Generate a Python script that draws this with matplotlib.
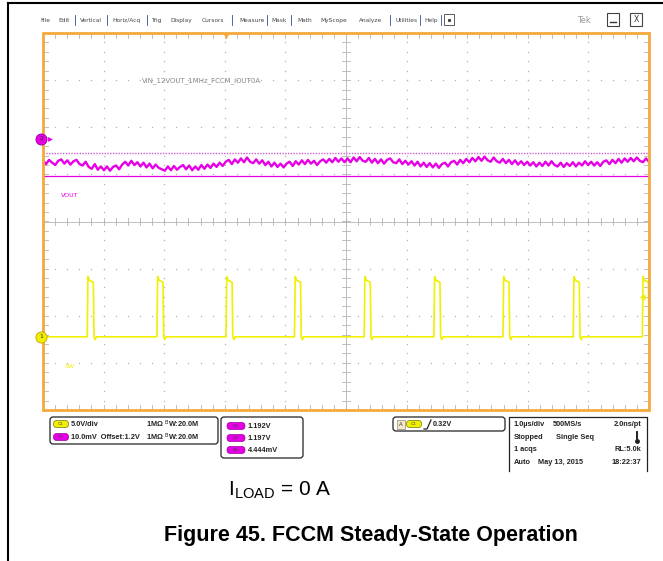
import numpy as np
import matplotlib
matplotlib.use("Agg")
import matplotlib.pyplot as plt
from matplotlib.patches import Rectangle, FancyBboxPatch

# scope settings
time_per_div = 1.0          # us/div
sw_volts_per_div = 5.0      # V/div, channel 1
vout_mv_per_div = 10.0      # mV/div, channel 2
vout_offset_mv = 1200.0

# switch node: rising edge times (us from screen centre), pulse levels (V)
sw_edges_us = [-4.27, -3.12, -1.98, -0.85, 0.30, 1.45, 2.59, 3.75, 4.89]
sw_width_us = 0.10
sw_high_v = 6.0
sw_peak_v = 6.4
sw_undershoot_v = -0.3

# output ripple, mV, one sample every 0.05 us
vout_mv = [
    1195.4, 1194.6, 1195.5, 1194.9, 1194.4, 1195.3, 1195.6, 1194.7, 1195.4, 1194.5,
    1195.2, 1195.5, 1194.6, 1194.3, 1195.1, 1194.0, 1193.6, 1194.6, 1193.4, 1194.1,
    1193.3, 1194.1, 1193.2, 1194.0, 1194.3, 1193.5, 1194.5, 1195.1, 1194.3, 1195.3,
    1194.4, 1195.0, 1194.1, 1194.9, 1193.9, 1194.7, 1193.7, 1194.5, 1193.8, 1193.5,
    1193.2, 1194.1, 1193.3, 1194.2, 1193.4, 1194.0, 1194.4, 1193.5, 1194.3, 1193.3,
    1194.1, 1193.4, 1194.4, 1193.6, 1194.5, 1193.8, 1194.7, 1194.0, 1194.9, 1194.2,
    1195.1, 1195.5, 1194.6, 1195.6, 1194.9, 1195.8, 1195.0, 1196.0, 1195.1, 1194.8,
    1195.6, 1194.7, 1195.4, 1194.4, 1195.1, 1194.1, 1194.9, 1194.0, 1194.7, 1193.9,
    1194.7, 1195.1, 1194.2, 1195.2, 1194.5, 1195.4, 1194.6, 1195.5, 1194.7, 1195.3,
    1194.4, 1195.2, 1195.6, 1194.9, 1195.7, 1195.0, 1195.9, 1195.1, 1195.8, 1195.0,
    1195.8, 1195.0, 1196.0, 1195.2, 1196.1, 1195.3, 1195.1, 1195.9, 1194.9, 1195.7,
    1194.8, 1195.6, 1194.7, 1195.5, 1195.8, 1195.0, 1194.8, 1195.6, 1194.6, 1195.3,
    1194.5, 1195.2, 1194.3, 1195.1, 1194.1, 1194.9, 1194.0, 1194.8, 1193.9, 1194.7,
    1193.8, 1194.6, 1194.9, 1194.1, 1195.0, 1195.3, 1194.5, 1195.5, 1194.8, 1195.7,
    1195.0, 1195.9, 1195.2, 1196.1, 1195.3, 1196.2, 1195.4, 1195.1, 1196.0, 1195.2,
    1194.9, 1195.7, 1194.8, 1195.5, 1194.6, 1195.4, 1194.5, 1195.2, 1194.4, 1195.1,
    1194.3, 1195.0, 1194.1, 1194.9, 1194.2, 1195.1, 1194.3, 1195.2, 1194.4, 1194.1,
    1194.9, 1194.0, 1194.8, 1194.2, 1195.0, 1194.1, 1194.9, 1194.3, 1195.2, 1194.4,
    1195.1, 1194.3, 1195.0, 1194.2, 1195.1, 1195.4, 1194.6, 1195.5, 1194.8, 1195.7,
    1194.9, 1195.8, 1195.1, 1195.9, 1195.2, 1196.0, 1195.3, 1195.0, 1195.8, 1195.1,
]

# cursor readouts
cursor_v1 = 1.192
cursor_v2 = 1.197
cursor_dv = "4.444mV"
trigger_level = "0.32V"
trigger_time_us = -1.98

# channel reference positions on screen (divisions from centre)
pos_ch1 = -2.447
pos_ch2 = 1.758

ORANGE = "#f6a93b"
MAGENTA = "#e600e6"
YELLOW = "#f0f000"
GRID = "#b4b4b4"

W, H = 663, 561
fig = plt.figure(figsize=(W / 100, H / 100), dpi=100)
fig.patch.set_facecolor("white")

# pixel overlay for frame, menus and readouts
ov = fig.add_axes([0, 0, 1, 1])
ov.set_xlim(0, W)
ov.set_ylim(H, 0)
ov.axis("off")

ov.plot([8, W], [3, 3], color="black", lw=1.5)
ov.plot([8, 8], [3, H], color="black", lw=1.5)

# menu bar
menu = [("File", 40), ("Edit", 58), ("Vertical", 80), ("Horiz/Acq", 112), ("Trig", 151),
        ("Display", 170), ("Cursors", 202), ("Measure", 239), ("Mask", 271), ("Math", 297),
        ("MyScope", 320), ("Analyze", 359), ("Utilities", 395), ("Help", 424)]
for name, x in menu:
    ov.text(x, 20, name, fontsize=4.2, color="#444444", va="center", ha="left")
for x in [75, 107, 147, 232, 267, 291, 390, 420, 441]:
    ov.plot([x, x], [15, 25], color="#3050a0", lw=0.6)
ov.add_patch(Rectangle((444, 14), 10, 11, fill=False, ec="#444444", lw=0.6))
ov.plot(449, 19.5, marker="s", ms=1.2, color="#444444")
ov.text(577, 20, "Tek", fontsize=6, color="#999999", va="center")
ov.add_patch(Rectangle((607, 13), 12, 13, fill=False, ec="#444444", lw=0.8))
ov.plot([610, 616], [22, 22], color="#333333", lw=1.0)
ov.add_patch(Rectangle((630, 13), 12, 13, fill=False, ec="#444444", lw=0.8))
ov.text(636, 19.5, "X", fontsize=5.5, ha="center", va="center", color="#333333")

# graticule
x0, y0, x1, y1 = 43, 33, 649, 410
ax = fig.add_axes([x0 / W, 1 - y1 / H, (x1 - x0) / W, (y1 - y0) / H])
ax.set_xlim(-5, 5)
ax.set_ylim(-4, 4)
ax.axis("off")

fine_x = np.arange(-5, 5.001, 0.2)
fine_y = np.arange(-4, 4.001, 0.2)
for gx in range(-4, 5):
    if gx == 0:
        continue
    ax.plot(np.full_like(fine_y, gx), fine_y, ls="none", marker="s", ms=0.9,
            color=GRID, mec="none")
for gy in range(-3, 4):
    if gy == 0:
        continue
    ax.plot(fine_x, np.full_like(fine_x, gy), ls="none", marker="s", ms=0.9,
            color=GRID, mec="none")

ax.plot([-5, 5], [0, 0], color=GRID, lw=0.6)
ax.plot([0, 0], [-4, 4], color=GRID, lw=0.6)
for t in fine_x:
    ax.plot([t, t], [-0.08, 0.08], color=GRID, lw=0.6)
    ax.plot([t, t], [4, 3.9], color=GRID, lw=0.6)
    ax.plot([t, t], [-4, -3.9], color=GRID, lw=0.6)
for v in fine_y:
    ax.plot([-0.06, 0.06], [v, v], color=GRID, lw=0.6)
    ax.plot([-5, -4.92], [v, v], color=GRID, lw=0.6)
    ax.plot([5, 4.92], [v, v], color=GRID, lw=0.6)

ax.add_patch(Rectangle((0, 0), 1, 1, transform=ax.transAxes, fill=False,
                       ec=ORANGE, lw=2.0, clip_on=False, zorder=6))

# channel 2: output voltage ripple
t_vout = np.linspace(-5, 5, len(vout_mv))
vout_div = pos_ch2 + (np.array(vout_mv) - vout_offset_mv) / vout_mv_per_div
ax.plot(t_vout, vout_div, color=MAGENTA, lw=1.7, zorder=4)

# cursors on channel 2
c1 = pos_ch2 + (cursor_v1 * 1000 - vout_offset_mv) / vout_mv_per_div
c2 = pos_ch2 + (cursor_v2 * 1000 - vout_offset_mv) / vout_mv_per_div
ax.axhline(c1, color=MAGENTA, lw=0.9, zorder=3)
ax.axhline(c2, color="#d060d0", lw=1.0, ls=(0, (1, 1)), zorder=3)

# channel 1: switch node
t_sw, v_sw = [-5.0], [0.0]
for te in sw_edges_us:
    t_sw += [te, te + 0.012, te + 0.035, te + sw_width_us,
             te + sw_width_us + 0.012, te + sw_width_us + 0.03, te + sw_width_us + 0.05]
    v_sw += [0.0, sw_peak_v, sw_high_v, sw_high_v - 0.2, 0.0, sw_undershoot_v, 0.0]
t_sw.append(5.0)
v_sw.append(0.0)
sw_div = pos_ch1 + np.array(v_sw) / sw_volts_per_div
ax.plot(t_sw, sw_div, color=YELLOW, lw=1.2, zorder=4)

# trigger markers
ax.plot(trigger_time_us, 3.93, marker="v", ms=5, color=ORANGE, mec="none",
        clip_on=False, zorder=7)
ax.plot(4.88, -1.6, marker="<", ms=4.5, color=YELLOW, mec="none", clip_on=False, zorder=7)

# channel ground markers
for pos, col, lab in [(pos_ch2, MAGENTA, "2"), (pos_ch1, YELLOW, "1")]:
    ax.plot(-5.03, pos, marker="o", ms=8, color=col, mec="#c8a000" if lab == "1" else "#a000a0",
            mew=0.6, clip_on=False, zorder=8)
    ax.text(-5.03, pos, lab, fontsize=4.5, ha="center", va="center", color="#333333",
            zorder=9, clip_on=False)
ax.plot(-4.88, pos_ch2, marker=">", ms=3.5, color=MAGENTA, mec="none", clip_on=False, zorder=8)

ax.text(-3.37, 3.0, "VIN_12VOUT_1MHz_FCCM_IOUT0A", fontsize=5.0, color="#888888", va="center")
ax.text(-4.7, 0.55, "VOUT", fontsize=4.5, color=MAGENTA, va="center")
ax.text(-4.65, -3.07, "SW", fontsize=4.5, color=YELLOW, va="center")

# readout panels
TXT = dict(fontsize=5.3, fontweight="bold", color="#222222", va="center",
           family="Liberation Sans")


def pill(x, y, col, lab, w=15, h=7):
    ov.add_patch(FancyBboxPatch((x - w / 2, y - h / 2), w, h,
                                boxstyle="round,pad=0,rounding_size=3.4",
                                fc=col, ec="#777700" if col == YELLOW else "#990099", lw=0.5))
    ov.text(x, y + 0.3, lab, fontsize=3.2, ha="center", va="center", color="#444444")


def panel(x, y, w, h):
    ov.add_patch(FancyBboxPatch((x, y), w, h, boxstyle="round,pad=0,rounding_size=3",
                                fill=False, ec="#222222", lw=0.9))


panel(50, 417, 168, 27)
pill(61, 424, YELLOW, "C1")
ov.text(71, 424, "5.0V/div", **TXT)
ov.text(146, 424, r"1MΩ $^{\mathrm{B}}$W:20.0M", **TXT)
pill(61, 437, MAGENTA, "C2")
ov.text(71, 437, "10.0mV  Offset:1.2V", **TXT)
ov.text(146, 437, r"1MΩ $^{\mathrm{B}}$W:20.0M", **TXT)

panel(221, 417, 82, 41)
for yy, lab, val in [(426, "V1", f"{cursor_v1:.3f}V"), (438, "V2", f"{cursor_v2:.3f}V"),
                     (450, "ΔV", cursor_dv)]:
    pill(236, yy, MAGENTA, lab, w=18)
    ov.text(248, yy, val, **TXT)

panel(393, 417, 112, 14)
ov.add_patch(Rectangle((397, 419.5), 8, 9, fc="#f8e8c8", ec="#888888", lw=0.5))
ov.text(401, 424, "A", fontsize=4, ha="center", va="center", color="#333333")
pill(414, 424, YELLOW, "C1")
ov.plot([424, 427, 431], [429, 429, 420], color="#222222", lw=0.9)
ov.text(433, 424, trigger_level, **TXT)

ov.plot([509, 509, 647, 647], [471, 417, 417, 471], color="#222222", lw=0.9)
ov.text(514, 424, "1.0µs/div", **TXT)
ov.text(553, 424, "500MS/s", **TXT)
ov.text(641, 424, "2.0ns/pt", ha="right", **TXT)
ov.text(514, 437, "Stopped", **TXT)
ov.text(556, 437, "Single Seq", **TXT)
ov.plot([637, 637], [432, 440], color="#222222", lw=1.4)
ov.plot(637, 441, marker="o", ms=2.5, color="#222222")
ov.text(514, 449, "1 acqs", **TXT)
ov.text(641, 449, "RL:5.0k", ha="right", **TXT)
ov.text(514, 462, "Auto", **TXT)
ov.text(538, 462, "May 13, 2015", **TXT)
ov.text(641, 462, "18:22:37", ha="right", **TXT)

# captions
ov.text(228, 490, r"I$_{\mathregular{LOAD}}$ = 0 A", fontsize=15, family="Liberation Sans",
        va="center", ha="left", color="black")
ov.text(371, 536, "Figure 45. FCCM Steady-State Operation", fontsize=15.5, fontweight="bold",
        family="Liberation Sans", ha="center", va="center", color="black")

fig.savefig("out.png", dpi=100)
